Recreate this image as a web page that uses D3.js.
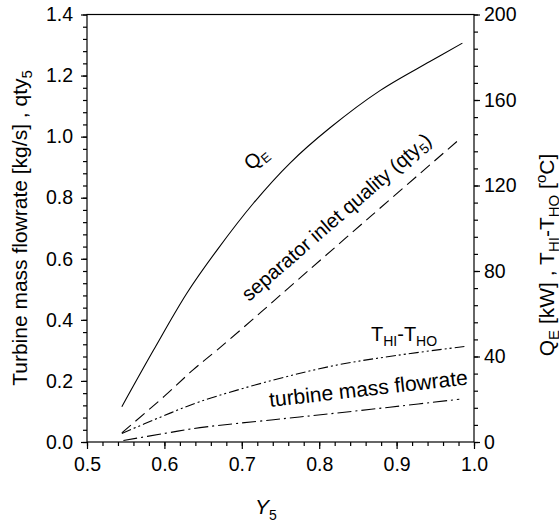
<!DOCTYPE html>
<html>
<head>
<meta charset="utf-8">
<script src="https://cdn.jsdelivr.net/npm/d3@7"></script>
<style>
  body { margin: 0; background: #fff; }
  svg { font-family: "Liberation Sans", Arial, sans-serif; }
  .axis path, .axis line { stroke: #000; stroke-width: 1.2; }
  .axis text { font-size: 19.5px; fill: #000; }
  .curve { fill: none; stroke: #000; stroke-width: 1.1; }
</style>
</head>
<body>
<div id="chart"></div>
<script>
// Y5 positions (x) and the four curves
var qeX   = [0.545, 0.586, 0.629, 0.668, 0.715, 0.762, 0.814, 0.879, 0.943, 0.985];
var qeY   = [16.5, 43.0, 69.6, 89.8, 111.7, 130.4, 147.0, 164.5, 178.0, 186.6];   // kW, right axis

var qtyX  = [0.545, 0.6, 0.637, 0.668, 0.713, 0.762, 0.866, 0.981];
var qtyY  = [0.030, 0.150, 0.236, 0.301, 0.399, 0.508, 0.738, 0.991];           // left axis

var dtX   = [0.545, 0.594, 0.646, 0.741, 0.823, 0.900, 0.990];
var dtY   = [4.0, 11.5, 18.9, 29.0, 36.0, 40.5, 44.8];                          // degC, right axis

var mX    = [0.547, 0.600, 0.646, 0.741, 0.805, 0.891, 0.981];
var mY    = [0.005, 0.028, 0.047, 0.073, 0.090, 0.114, 0.140];                  // kg/s, left axis

var xTicks  = [0.5, 0.6, 0.7, 0.8, 0.9, 1.0];
var yLTicks = [0, 0.2, 0.4, 0.6, 0.8, 1.0, 1.2, 1.4];
var yRTicks = [0, 40, 80, 120, 160, 200];

var W = 559, H = 530;
var plotL = 87, plotR = 474, plotT = 14.5, plotB = 442;

var svg = d3.select("#chart").append("svg")
    .attr("width", W)
    .attr("height", H);

var x = d3.scaleLinear().domain([0.5, 1.0]).range([plotL, plotR]);
var yL = d3.scaleLinear().domain([0, 1.4]).range([plotB, plotT]);
var yR = d3.scaleLinear().domain([0, 200]).range([plotB, plotT]);

// minor ticks first
svg.append("g").attr("class", "axis")
    .attr("transform", "translate(0," + plotB + ")")
    .call(d3.axisBottom(x).tickValues(d3.range(0.5, 1.0001, 0.02)).tickSize(4).tickFormat(""));
svg.append("g").attr("class", "axis")
    .attr("transform", "translate(" + plotL + ",0)")
    .call(d3.axisLeft(yL).tickValues(d3.range(0, 1.4001, 0.04)).tickSize(4).tickFormat(""));
svg.append("g").attr("class", "axis")
    .attr("transform", "translate(" + plotR + ",0)")
    .call(d3.axisRight(yR).tickValues(d3.range(0, 200.1, 8)).tickSize(4).tickFormat(""));

// major ticks
svg.append("g").attr("class", "axis")
    .attr("transform", "translate(0," + plotB + ")")
    .call(d3.axisBottom(x).tickValues(xTicks).tickSize(7).tickPadding(8).tickFormat(d3.format(".1f")));
svg.append("g").attr("class", "axis")
    .attr("transform", "translate(" + plotL + ",0)")
    .call(d3.axisLeft(yL).tickValues(yLTicks).tickSize(6).tickPadding(8).tickFormat(d3.format(".1f")));
svg.append("g").attr("class", "axis")
    .attr("transform", "translate(" + plotR + ",0)")
    .call(d3.axisRight(yR).tickValues(yRTicks).tickSize(6).tickPadding(4).tickFormat(d3.format("d")));

svg.selectAll(".axis .domain").remove();
svg.append("rect")
    .attr("x", plotL).attr("y", plotT)
    .attr("width", plotR - plotL).attr("height", plotB - plotT)
    .attr("fill", "none").attr("stroke", "#000").attr("stroke-width", 1.2);

function drawCurve(xs, ys, yScale, dash) {
  var pts = xs.map(function(d, i) { return [d, ys[i]]; });
  var line = d3.line()
      .x(function(d) { return x(d[0]); })
      .y(function(d) { return yScale(d[1]); })
      .curve(d3.curveCatmullRom.alpha(0.5));
  svg.append("path")
      .datum(pts)
      .attr("class", "curve")
      .attr("d", line)
      .attr("stroke-dasharray", dash);
}

drawCurve(qeX, qeY, yR, null);
drawCurve(qtyX, qtyY, yL, "12,6");
drawCurve(dtX, dtY, yR, "10,3,2,3,2,3");
drawCurve(mX, mY, yL, "14,4,2,4");

// annotations
var t1 = svg.append("text")
    .attr("transform", "translate(251,171) rotate(-40)")
    .attr("font-size", 20);
t1.append("tspan").text("Q");
t1.append("tspan").attr("font-size", 13).attr("dy", 4).text("E");

var t2 = svg.append("text")
    .attr("transform", "translate(249,302) rotate(-41)")
    .attr("font-size", 20);
t2.append("tspan").text("separator inlet quality (qty");
t2.append("tspan").attr("font-size", 14).attr("dy", 4).text("5");
t2.append("tspan").attr("dy", -4).text(")");

var t3 = svg.append("text")
    .attr("x", 371).attr("y", 341)
    .attr("font-size", 20);
t3.append("tspan").text("T");
t3.append("tspan").attr("font-size", 14).attr("dy", 5).text("HI");
t3.append("tspan").attr("dy", -5).text("-T");
t3.append("tspan").attr("font-size", 14).attr("dy", 5).text("HO");

svg.append("text")
    .attr("transform", "translate(270,407) rotate(-6.5)")
    .attr("font-size", 21)
    .text("turbine mass flowrate");

// axis titles
var xt = svg.append("text")
    .attr("x", 266).attr("y", 514)
    .attr("text-anchor", "middle")
    .attr("font-size", 21);
xt.append("tspan").attr("font-style", "italic").text("Y");
xt.append("tspan").attr("font-size", 14).attr("dy", 6).text("5");

var yt = svg.append("text")
    .attr("transform", "translate(27,228) rotate(-90)")
    .attr("text-anchor", "middle")
    .attr("font-size", 21);
yt.append("tspan").text("Turbine mass flowrate [kg/s] ,  qty");
yt.append("tspan").attr("font-size", 15).attr("dy", 5).text("5");

var yt2 = svg.append("text")
    .attr("transform", "translate(554,255) rotate(-90)")
    .attr("text-anchor", "middle")
    .attr("font-size", 21);
yt2.append("tspan").text("Q");
yt2.append("tspan").attr("font-size", 15).attr("dy", 5).text("E");
yt2.append("tspan").attr("dy", -5).text(" [kW] ,  T");
yt2.append("tspan").attr("font-size", 15).attr("dy", 5).text("HI");
yt2.append("tspan").attr("dy", -5).text("-T");
yt2.append("tspan").attr("font-size", 15).attr("dy", 5).text("HO");
yt2.append("tspan").attr("dy", -5).text(" [");
yt2.append("tspan").attr("font-size", 15).attr("dy", -8).text("o");
yt2.append("tspan").attr("dy", 8).text("C]");
</script>
</body>
</html>
